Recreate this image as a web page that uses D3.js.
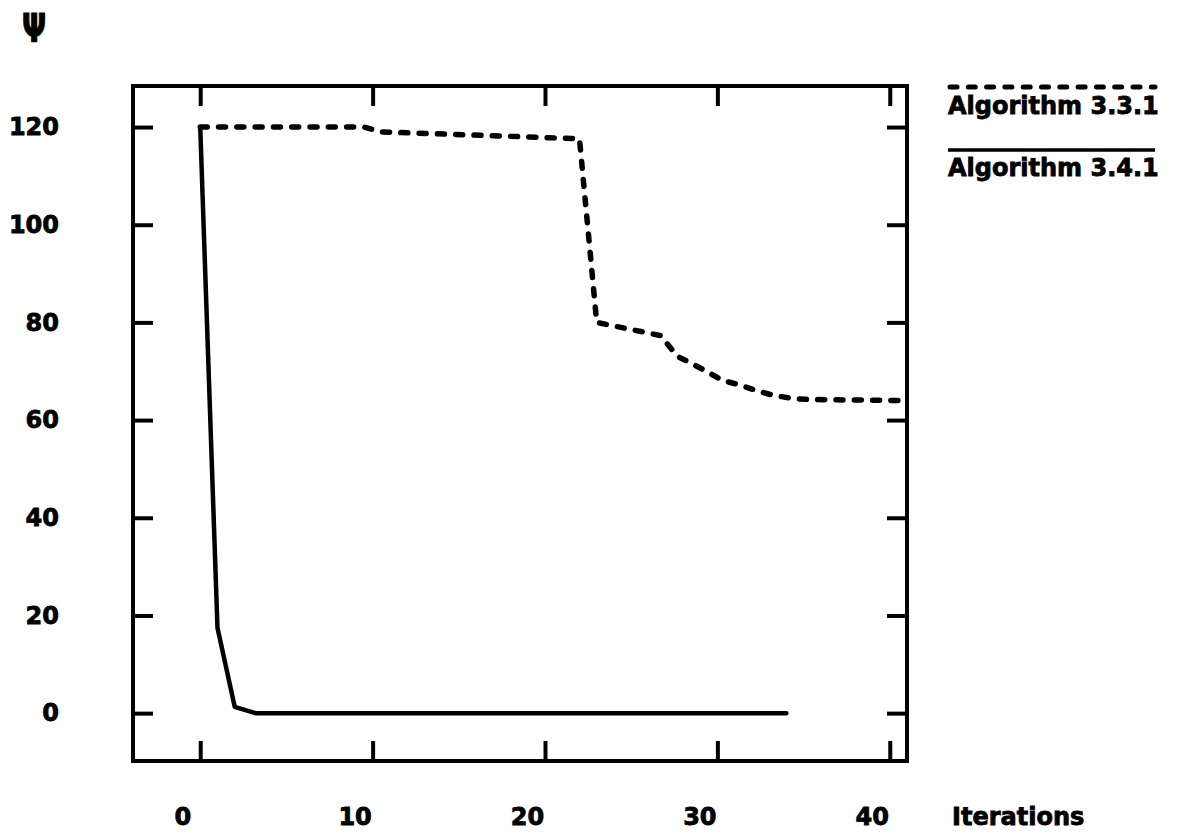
<!DOCTYPE html>
<html>
<head>
<meta charset="utf-8">
<script src="https://cdn.jsdelivr.net/npm/d3@7"></script>
<style>
  body { margin: 0; background: #fff; }
  text { font-family: "DejaVu Sans", sans-serif; font-weight: bold; fill: #000; stroke: #000; stroke-width: 0.8px; }
</style>
</head>
<body>
<div id="chart"></div>
<script>
// data
var xTicks = [0, 10, 20, 30, 40];
var yTicks = [0, 20, 40, 60, 80, 100, 120];

var iterDashed = [0, 9.5, 10.5, 22, 23, 26.7, 27.7, 28.5, 29.4, 30.3, 31.3, 32.3, 33.2, 34.4, 35.5, 41];
var psiDashed  = [120, 120, 119, 117.6, 80, 77.3, 73, 71.6, 69.9, 68.1, 67.2, 66, 65.1, 64.4, 64.2, 64];

var iterSolid = [0, 1, 2, 3.2, 34];
var psiSolid  = [120, 17.5, 1.3, 0, 0];

var seriesNames = ["Algorithm 3.3.1", "Algorithm 3.4.1"];

var width = 1180, height = 837;

var svg = d3.select("#chart")
  .append("svg")
  .attr("width", width)
  .attr("height", height);

// frame edges
var frameL = 133, frameR = 907, frameT = 86, frameB = 761;

var x = d3.scaleLinear().domain([-3.9, 41]).range([frameL, frameR]);
var y = d3.scaleLinear().domain([-9.8, 128.4]).range([frameB, frameT]);

// frame
svg.append("rect")
  .attr("x", frameL).attr("y", frameT)
  .attr("width", frameR - frameL).attr("height", frameB - frameT)
  .style("fill", "none")
  .style("stroke", "#000")
  .style("stroke-width", 4);

function styleAxis(g) {
  g.select(".domain").remove();
  g.selectAll(".tick line").style("stroke", "#000").style("stroke-width", 4);
  g.selectAll("text").style("font-size", "24px")
    .style("font-family", "DejaVu Sans").style("font-weight", "bold")
    .style("stroke", "#000").style("stroke-width", "0.8px");
}

// bottom axis with labels
svg.append("g")
  .attr("transform", "translate(0," + frameB + ")")
  .call(d3.axisBottom(x).tickValues(xTicks).tickSize(-20).tickPadding(47))
  .call(styleAxis)
  .call(function(g) { g.selectAll("text").attr("dx", -18); });

// top axis, ticks only
svg.append("g")
  .attr("transform", "translate(0," + frameT + ")")
  .call(d3.axisTop(x).tickValues(xTicks).tickSize(-20).tickFormat(""))
  .call(styleAxis);

// left axis with labels
svg.append("g")
  .attr("transform", "translate(" + frameL + ",0)")
  .call(d3.axisLeft(y).tickValues(yTicks).tickSize(-20).tickPadding(74))
  .call(styleAxis);

// right axis, ticks only
svg.append("g")
  .attr("transform", "translate(" + frameR + ",0)")
  .call(d3.axisRight(y).tickValues(yTicks).tickSize(-20).tickFormat(""))
  .call(styleAxis);

var line = d3.line()
  .x(function(d) { return x(d[0]); })
  .y(function(d) { return y(d[1]); });

var dashedData = d3.zip(iterDashed, psiDashed);
var solidData = d3.zip(iterSolid, psiSolid);

svg.append("path")
  .datum(dashedData)
  .attr("d", line)
  .style("fill", "none")
  .style("stroke", "#000")
  .style("stroke-width", 5.5)
  .style("stroke-linecap", "round")
  .style("stroke-dasharray", "7,11.3");

svg.append("path")
  .datum(solidData)
  .attr("d", line)
  .style("fill", "none")
  .style("stroke", "#000")
  .style("stroke-width", 4.5)
  .style("stroke-linejoin", "round")
  .style("stroke-linecap", "round");

// axis titles
svg.append("text")
  .attr("transform", "translate(22,42) scale(0.95,1.3)")
  .style("font-size", "30px")
  .text("Ψ");

svg.append("text")
  .attr("x", 952)
  .attr("y", 825)
  .style("font-size", "24px")
  .text("Iterations");

// legend
var legendY = [87, 150];
svg.append("line")
  .attr("x1", 950).attr("x2", 1155)
  .attr("y1", legendY[0]).attr("y2", legendY[0])
  .style("stroke", "#000")
  .style("stroke-width", 5)
  .style("stroke-linecap", "round")
  .style("stroke-dasharray", "7,11.3");

svg.append("line")
  .attr("x1", 948).attr("x2", 1155)
  .attr("y1", legendY[1]).attr("y2", legendY[1])
  .style("stroke", "#000")
  .style("stroke-width", 3.5);

svg.append("text")
  .attr("x", 948).attr("y", 114)
  .style("font-size", "24px")
  .text(seriesNames[0]);

svg.append("text")
  .attr("x", 948).attr("y", 176)
  .style("font-size", "24px")
  .text(seriesNames[1]);
</script>
</body>
</html>
